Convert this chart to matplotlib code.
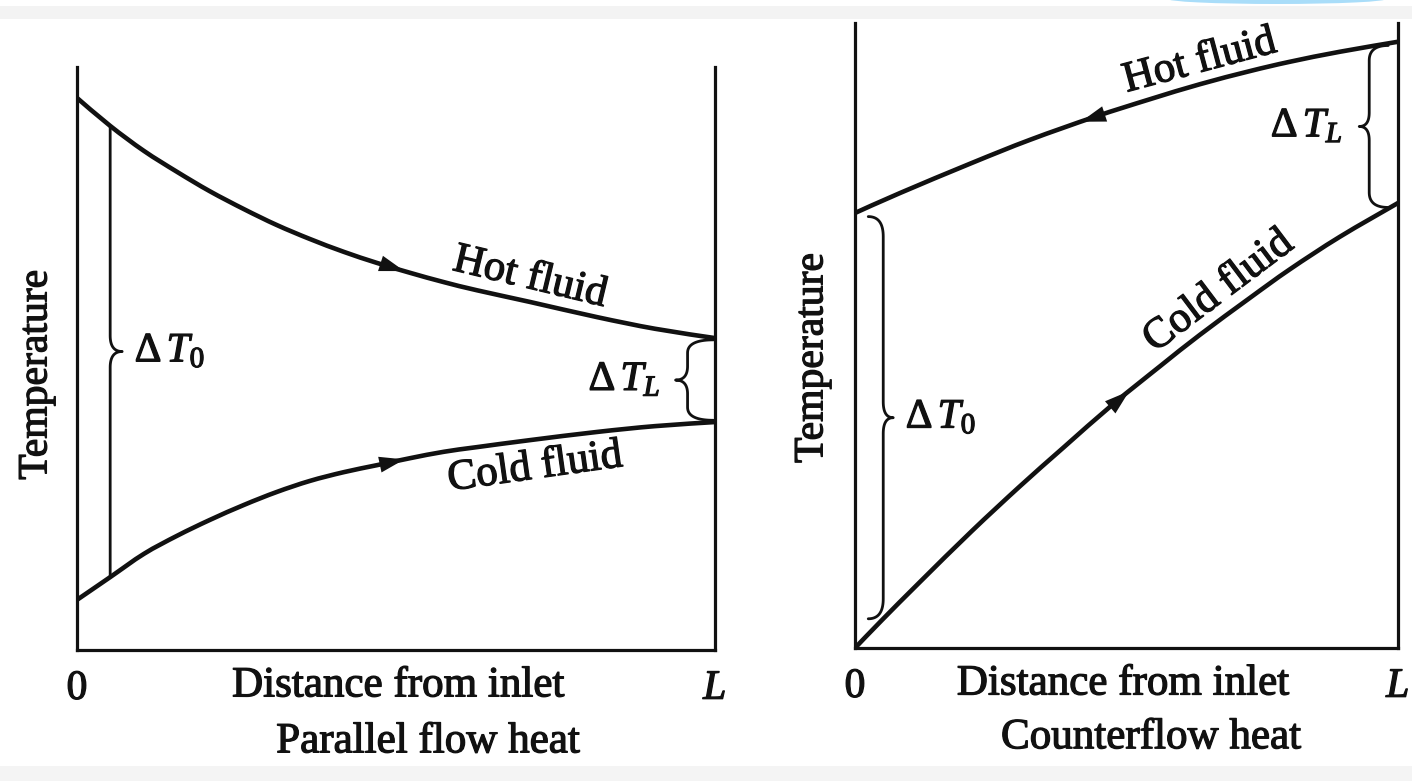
import numpy as np
import matplotlib
matplotlib.use("Agg")
import matplotlib.pyplot as plt
import matplotlib.patheffects as pe
from matplotlib.patches import Ellipse, Rectangle, PathPatch
from matplotlib.path import Path

plt.rcParams['font.family'] = ['Liberation Serif', 'DejaVu Serif']
plt.rcParams['mathtext.fontset'] = 'custom'
plt.rcParams['mathtext.rm'] = 'Liberation Serif'
plt.rcParams['mathtext.it'] = 'Liberation Serif:italic'

# distance as a fraction of L, temperature in % of the axis height
par_x = [0, 0.052, 0.105, 0.157, 0.208, 0.262, 0.313, 0.365, 0.418, 0.470, 0.522,
         0.575, 0.627, 0.710, 0.815, 0.906, 1.0]
par_hot = [94.7, 89.9, 85.6, 82.0, 78.7, 75.6, 72.9, 70.5, 68.3, 66.4, 64.7,
           63.1, 61.7, 59.7, 57.1, 55.1, 53.5]
par_cold = [8.6, 12.5, 16.5, 19.6, 22.3, 24.9, 27.1, 29.0, 30.5, 31.7, 32.9,
            34.0, 34.8, 36.0, 37.4, 38.4, 39.1]

cnt_x_hot = [0, 0.083, 0.215, 0.322, 0.442, 0.543, 0.635, 0.727, 0.801, 0.893, 1.0]
cnt_hot = [69.6, 72.8, 77.6, 81.3, 85.0, 87.8, 90.2, 92.3, 93.8, 95.4, 97.0]
cnt_x_cold = [0, 0.050, 0.120, 0.215, 0.304, 0.383, 0.475, 0.562, 0.635, 0.727, 0.801, 0.893, 1.0]
cnt_cold = [0, 4.5, 10.6, 18.7, 25.9, 32.0, 39.0, 45.1, 50.1, 56.0, 60.6, 65.8, 71.2]

x_ticks = [0, 1]
x_ticklabels = ['0', '$L$']
titles = ['Parallel flow heat', 'Counterflow heat']

INK = '#111111'
FS = 31
HEAVY = [pe.withStroke(linewidth=0.9, foreground=INK)]


def curve(ax, xs, ys):
    # smooth curve through the read points (catmull-rom as bezier segments)
    P = np.column_stack([xs, ys]).astype(float)
    verts, codes = [P[0]], [Path.MOVETO]
    for i in range(len(P) - 1):
        p0 = P[i - 1] if i > 0 else P[i]
        p3 = P[i + 2] if i + 2 < len(P) else P[i + 1]
        verts += [P[i] + (P[i + 1] - p0) / 6, P[i + 1] - (p3 - P[i]) / 6, P[i + 1]]
        codes += [Path.CURVE4] * 3
    ax.add_patch(PathPatch(Path(verts, codes), fill=False, lw=3.3, edgecolor=INK,
                           capstyle='round', joinstyle='round'))


def flow_arrow(ax, xs, ts, tip_x, back):
    tip = (tip_x, np.interp(tip_x, xs, ts))
    tail = (tip_x - back, np.interp(tip_x - back, xs, ts))
    ax.annotate('', xy=tip, xytext=tail,
                arrowprops=dict(arrowstyle='-|>,head_length=1.0,head_width=0.32',
                                mutation_scale=18, color=INK, lw=0,
                                shrinkA=0, shrinkB=0))


def bez(p0, c, p1, n=20):
    t = np.linspace(0, 1, n)[:, None]
    return (1 - t) ** 2 * np.array(p0) + 2 * (1 - t) * t * np.array(c) + t ** 2 * np.array(p1)


def brace(ax, x, top, bottom, side, tip=11, half=14, end=0, curl=0):
    # drawn in pixels, then mapped back to data
    (px, pt), (_, pb) = ax.transData.transform([(x, top), (x, bottom)])
    pm = (pt + pb) / 2
    parts = []
    if curl:
        parts.append(bez((px + end, pt), (px, pt), (px, pt - curl)))
    parts.append(np.array([(px, pt - curl), (px, pm + half)]))
    parts.append(bez((px, pm + half), (px, pm), (px + side * tip, pm)))
    parts.append(bez((px + side * tip, pm), (px, pm), (px, pm - half)))
    parts.append(np.array([(px, pm - half), (px, pb + curl)]))
    if curl:
        parts.append(bez((px, pb + curl), (px, pb), (px + end, pb)))
    pts = ax.transData.inverted().transform(np.vstack(parts))
    ax.plot(pts[:, 0], pts[:, 1], color=INK, lw=2.0, solid_capstyle='round')
    return (px + side * tip, pm)


def label_at(ax, pix, text, dx):
    xy = ax.transData.inverted().transform([pix])[0]
    ax.annotate(text, xy=xy, xytext=(dx, 0), textcoords='offset points',
                ha='left' if dx > 0 else 'right', va='center', fontsize=30, color=INK,
                path_effects=HEAVY)


def words(ax, x, y, s, **kw):
    kw.setdefault('fontsize', FS)
    ax.text(x, y, s, ha='center', va='center', color=INK, path_effects=HEAVY, **kw)


fig = plt.figure(figsize=(14.12, 7.81), dpi=100)
fig.patches.append(Rectangle((0, 1 - 19 / 781), 1, 13 / 781, transform=fig.transFigure,
                             facecolor='#f3f3f3', edgecolor='none'))
fig.patches.append(Rectangle((0, 0), 1, 15 / 781, transform=fig.transFigure,
                             facecolor='#f4f4f4', edgecolor='none'))
fig.patches.append(Ellipse((1277 / 1412, 1 + 1.2 / 781), 220 / 1412, 10.4 / 781,
                           transform=fig.transFigure, facecolor='#a9ddf9', edgecolor='none'))

ax1 = fig.add_axes([77 / 1412, 1 - 650 / 781, 638 / 1412, 583 / 781])
ax2 = fig.add_axes([855 / 1412, 1 - 648 / 781, 543 / 1412, 625 / 781])

for ax in (ax1, ax2):
    ax.set_xlim(0, 1)
    ax.set_ylim(0, 100)
    ax.set_facecolor('none')
    ax.spines['top'].set_visible(False)
    for s in ('left', 'right', 'bottom'):
        ax.spines[s].set_linewidth(2.3)
        ax.spines[s].set_color(INK)
    ax.set_yticks([])
    ax.set_xticks(x_ticks, x_ticklabels)
    ax.tick_params(axis='x', length=0, pad=14, labelsize=30, colors=INK)
    for t in ax.get_xticklabels():
        t.set_path_effects(HEAVY)

# parallel flow
curve(ax1, par_x, par_hot)
curve(ax1, par_x, par_cold)
flow_arrow(ax1, par_x, par_hot, 0.513, 0.1)
flow_arrow(ax1, par_x, par_cold, 0.513, 0.1)
words(ax1, 0.71, 63.8, 'Hot fluid', rotation=-13.5, rotation_mode='anchor')
words(ax1, 0.718, 31.2, 'Cold fluid', rotation=8, rotation_mode='anchor')
tip = brace(ax1, par_x[1], par_hot[1], par_cold[1], +1, tip=12, half=16)
label_at(ax1, tip, r'$\Delta\,T_0$', 9)
tip = brace(ax1, 0.957, par_hot[-1] - 0.3, par_cold[-1] + 0.3, -1, tip=12, half=14,
            end=26, curl=13)
label_at(ax1, tip, r'$\Delta\,T_L$', -11)
words(ax1, -0.064, 0.472, 'Temperature', rotation=90, transform=ax1.transAxes, fontsize=30)
words(ax1, 0.503, -0.062, 'Distance from inlet', transform=ax1.transAxes)
words(ax1, 0.55, -0.158, titles[0], transform=ax1.transAxes)

# counterflow
curve(ax2, cnt_x_hot, cnt_hot)
curve(ax2, cnt_x_cold, cnt_cold)
flow_arrow(ax2, cnt_x_hot, cnt_hot, 0.416, -0.1)
flow_arrow(ax2, cnt_x_cold, cnt_cold, 0.505, 0.1)
words(ax2, 0.635, 93.8, 'Hot fluid', rotation=15, rotation_mode='anchor')
words(ax2, 0.670, 57.0, 'Cold fluid', rotation=37, rotation_mode='anchor')
x0 = 0.052
tip = brace(ax2, x0, np.interp(0.024, cnt_x_hot, cnt_hot) - 1.5,
            np.interp(x0, cnt_x_cold, cnt_cold), +1, tip=10, half=16, end=-15, curl=20)
label_at(ax2, tip, r'$\Delta\,T_0$', 9)
xl = 0.947
tip = brace(ax2, xl, np.interp(0.98, cnt_x_hot, cnt_hot) - 0.3,
            np.interp(0.98, cnt_x_cold, cnt_cold) + 0.3, -1, tip=10, half=14, end=19, curl=15)
label_at(ax2, tip, r'$\Delta\,T_L$', -12)
words(ax2, -0.079, 0.464, 'Temperature', rotation=90, transform=ax2.transAxes, fontsize=30)
words(ax2, 0.493, -0.058, 'Distance from inlet', transform=ax2.transAxes)
words(ax2, 0.545, -0.144, titles[1], transform=ax2.transAxes)

fig.savefig('out.png', dpi=100)
